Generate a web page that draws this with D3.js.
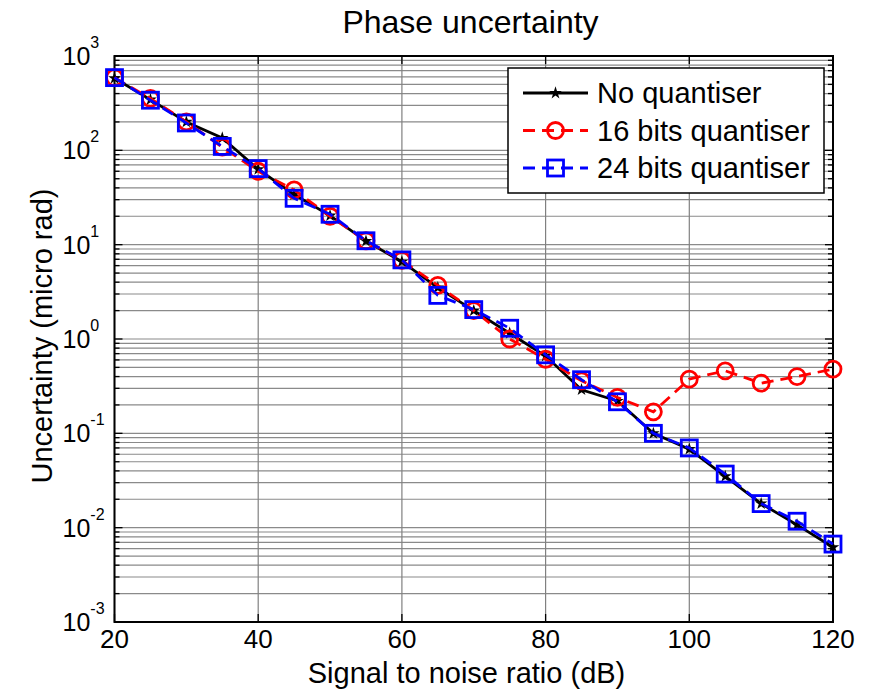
<!DOCTYPE html>
<meta charset="utf-8">
<script src="https://d3js.org/d3.v7.min.js"></script>
<style>
  body { margin: 0; background: white; }
  text { font-family: "Liberation Sans", Arial, sans-serif; }
</style>
<div id="my_dataviz"></div>

<script>
    // data
    var snr = [20, 25, 30, 35, 40, 45, 50, 55, 60, 65, 70, 75, 80, 85, 90, 95, 100, 105, 110, 115, 120];
    var noQuant = [580, 345, 200, 135, 63, 34, 20.3, 10.9, 6.6, 3.5, 2.0, 1.15, 0.66, 0.29, 0.22, 0.10, 0.068, 0.035, 0.018, 0.0107, 0.0062];
    var bits16 = [590, 355, 200, 108, 60, 38, 20, 11, 6.8, 3.7, 2.0, 1.0, 0.61, 0.36, 0.24, 0.169, 0.376, 0.46, 0.34, 0.40, 0.48];
    var bits24 = [590, 340, 195, 110, 64, 31, 21, 11, 6.9, 2.9, 2.05, 1.3, 0.68, 0.37, 0.216, 0.10, 0.07, 0.037, 0.018, 0.0117, 0.0067];
    var xTicks = [20, 40, 60, 80, 100, 120];
    var yExps = [3, 2, 1, 0, -1, -2, -3];
    var seriesNames = ["No quantiser", "16 bits quantiser", "24 bits quantiser"];

    var margin = {top: 56, right: 36, bottom: 69, left: 114.5},
        width = 869 - margin.left - margin.right,
        height = 691 - margin.top - margin.bottom;

    var svg = d3.select("#my_dataviz")
      .append("svg")
        .attr("width", 869)
        .attr("height", 691)
      .append("g")
        .attr("transform", "translate(" + margin.left + "," + margin.top + ")");

    var x = d3.scaleLinear().domain([20, 120]).range([0, width]);
    var y = d3.scaleLog().domain([1e-3, 1e3]).range([height, 0]);

    // minor values 2..9 per decade
    var minor = [];
    yExps.forEach(function(e) {
      if (e === 3) return;
      for (var k = 2; k <= 9; k++) minor.push(k * Math.pow(10, e));
    });
    var major = yExps.map(function(e) { return Math.pow(10, e); });

    // grid
    svg.append("g").selectAll("line")
      .data(minor.concat(major))
      .enter().append("line")
        .attr("x1", 0).attr("x2", width)
        .attr("y1", function(d) { return y(d); })
        .attr("y2", function(d) { return y(d); })
        .attr("stroke", "#8a8a8a")
        .attr("stroke-width", 1.2);
    svg.append("g").selectAll("line")
      .data(xTicks)
      .enter().append("line")
        .attr("x1", function(d) { return x(d); })
        .attr("x2", function(d) { return x(d); })
        .attr("y1", 0).attr("y2", height)
        .attr("stroke", "#808080")
        .attr("stroke-width", 1.2);

    // inward ticks
    var ticks = svg.append("g").attr("stroke", "black").attr("stroke-width", 1.3);
    minor.forEach(function(d) {
      ticks.append("line").attr("x1", 0).attr("x2", 5).attr("y1", y(d)).attr("y2", y(d));
      ticks.append("line").attr("x1", width).attr("x2", width - 5).attr("y1", y(d)).attr("y2", y(d));
    });
    major.forEach(function(d) {
      ticks.append("line").attr("x1", 0).attr("x2", 8).attr("y1", y(d)).attr("y2", y(d));
      ticks.append("line").attr("x1", width).attr("x2", width - 8).attr("y1", y(d)).attr("y2", y(d));
    });
    xTicks.forEach(function(d) {
      ticks.append("line").attr("x1", x(d)).attr("x2", x(d)).attr("y1", height).attr("y2", height - 8);
      ticks.append("line").attr("x1", x(d)).attr("x2", x(d)).attr("y1", 0).attr("y2", 8);
    });

    // box
    svg.append("rect")
      .attr("width", width).attr("height", height)
      .attr("fill", "none").attr("stroke", "black").attr("stroke-width", 2);

    // tick labels
    svg.append("g").selectAll("text")
      .data(xTicks)
      .enter().append("text")
        .attr("x", function(d) { return x(d); })
        .attr("y", height + 26)
        .attr("text-anchor", "middle")
        .attr("font-size", 26)
        .text(function(d) { return d; });

    var yl = svg.append("g").selectAll("text")
      .data(yExps)
      .enter().append("text")
        .attr("x", -52)
        .attr("y", function(d) { return y(Math.pow(10, d)) + 9; })
        .attr("font-size", 25);
    yl.append("tspan").text("10");
    yl.append("tspan")
      .attr("dy", -17)
      .attr("font-size", 16)
      .text(function(d) { return d; });

    // titles
    svg.append("text")
      .attr("x", (343 + 598) / 2 - margin.left).attr("y", -23)
      .attr("text-anchor", "middle")
      .attr("font-size", 32)
      .text("Phase uncertainty");
    svg.append("text")
      .attr("x", (303 + 630) / 2 - margin.left).attr("y", height + 61)
      .attr("text-anchor", "middle")
      .attr("font-size", 29)
      .text("Signal to noise ratio (dB)");
    svg.append("text")
      .attr("transform", "translate(-63," + (336 - margin.top) + ") rotate(-90)")
      .attr("text-anchor", "middle")
      .attr("font-size", 29)
      .text("Uncertainty (micro rad)");

    // lines
    var series = [
      {name: seriesNames[0], values: noQuant, color: "black", dash: null, marker: "star"},
      {name: seriesNames[1], values: bits16, color: "red", dash: "12,7", marker: "circle"},
      {name: seriesNames[2], values: bits24, color: "blue", dash: "12,7", marker: "square"}
    ];

    var line = d3.line()
      .x(function(d) { return x(d[0]); })
      .y(function(d) { return y(d[1]); });

    function drawMarker(g, s, cx, cy) {
      if (s.marker === "circle") {
        g.append("circle").attr("cx", cx).attr("cy", cy).attr("r", 8)
          .attr("fill", "none").attr("stroke", s.color).attr("stroke-width", 2.8);
      } else if (s.marker === "square") {
        g.append("rect").attr("x", cx - 8).attr("y", cy - 8).attr("width", 16).attr("height", 16)
          .attr("fill", "none").attr("stroke", s.color).attr("stroke-width", 2.8);
      } else {
        g.append("path").attr("transform", "translate(" + cx + "," + cy + ")")
          .attr("d", d3.symbol(d3.symbolStar, 50)())
          .attr("fill", s.color);
      }
    }

    series.forEach(function(s) {
      var pts = snr.map(function(d, i) { return [d, s.values[i]]; });
      svg.append("path")
        .datum(pts)
        .attr("fill", "none")
        .attr("stroke", s.color)
        .attr("stroke-width", 2.8)
        .attr("stroke-dasharray", s.dash)
        .attr("d", line);
      var g = svg.append("g");
      pts.forEach(function(p) { drawMarker(g, s, x(p[0]), y(p[1])); });
    });

    // legend
    var lg = svg.append("g").attr("transform", "translate(" + (508 - margin.left) + "," + (68 - margin.top) + ")");
    lg.append("rect")
      .attr("width", 316).attr("height", 125)
      .attr("fill", "white").attr("stroke", "black").attr("stroke-width", 1.5);
    series.forEach(function(s, i) {
      var yy = 25 + i * 37.5;
      lg.append("line")
        .attr("x1", 15).attr("x2", 80).attr("y1", yy).attr("y2", yy)
        .attr("stroke", s.color).attr("stroke-width", 2.8)
        .attr("stroke-dasharray", s.dash);
      drawMarker(lg, s, 47.5, yy);
      lg.append("text")
        .attr("x", 89).attr("y", yy + 10)
        .attr("font-size", 29)
        .text(s.name);
    });
</script>
